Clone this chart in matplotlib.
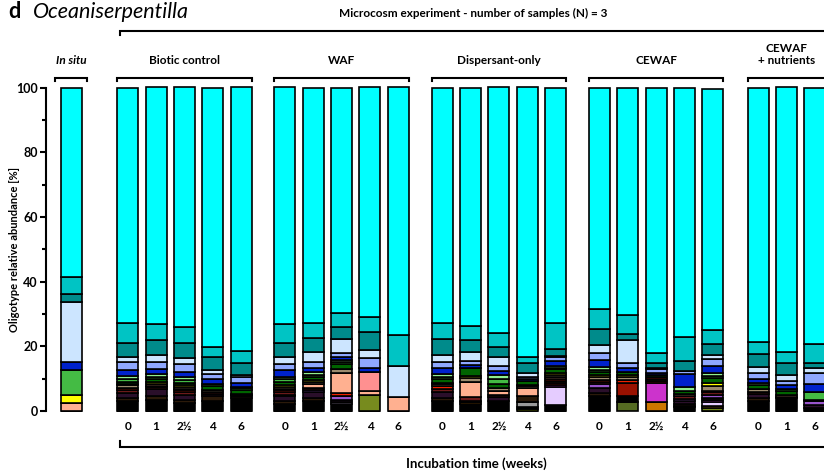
import numpy as np
import matplotlib.pyplot as plt

plt.rcParams['font.family'] = 'Lato'

# samples: in situ, then 5 treatments sampled over incubation weeks
weeks = ['0', '1', '2½', '4', '6']
groups = ['Biotic control', 'WAF', 'Dispersant-only', 'CEWAF', 'CEWAF\n+ nutrients']
group_weeks = [weeks, weeks, weeks, weeks, ['0', '1', '6']]

# oligotype relative abundance (%), one value per sample, stacked bottom -> top
# order: IS | BC 0 1 2½ 4 6 | WAF x5 | Disp x5 | CEWAF x5 | CEWAF+nutr 0 1 6
olivedk  = [0, 0, 0, 0, 0, 0,  0, 0, 0, 0, 0,  0, 0, 0, 0, 0,  0, 2.9, 0, 0, 0,  0, 0, 0]
ygreen   = [0, 0, 0, 0, 0, 0,  0, 0, 0, 0, 0,  0, 0, 0, 0.5, 0,  0, 0, 0, 0, 0,  0, 0, 0]
black    = [0, 3.0, 3.5, 2.5, 3.0, 4.0,  2.2, 3.0, 2.2, 0, 0,  3.0, 2.2, 3.0, 0.6, 1.9,  4.5, 1.7, 0, 1.2, 0,  3.0, 3.9, 1.0]
gray     = [0, 0, 0, 0, 0, 0,  0, 0, 0, 0, 0,  0, 0, 0, 1.8, 0,  0, 0, 0, 0, 0,  0, 0, 0]
olive    = [0, 0, 0, 0, 0, 0,  0, 0, 0, 5.0, 0,  0, 0, 0, 0, 0,  0, 0, 0, 0, 0.8,  0, 0, 0]
orange   = [0, 0, 0, 0, 0, 0,  0, 0, 0, 0, 0,  0, 0.5, 0, 0, 0,  0, 0, 2.9, 0.4, 0.9,  0, 0, 0]
lavender = [0, 0, 0, 0, 0, 0,  0, 0, 0.5, 0, 0,  0, 0, 0, 0, 5.4,  0, 0, 0, 0, 1.2,  0, 0, 0]
magenta  = [0, 0, 0, 0, 0, 0,  0, 0, 0, 0, 0,  0, 0, 0, 0, 0.6,  0, 0, 5.7, 0, 0.4,  0, 0, 0]
darkred  = [0, 0, 0, 0, 0, 0,  0, 0, 0, 0, 0,  0, 0, 0, 0, 0.9,  0, 4.2, 0.8, 0, 0,  0, 0, 0]
dkbrown  = [0, 1.0, 1.2, 1.0, 1.5, 0.5,  0.8, 1.0, 0, 0, 0,  1.0, 0, 0, 1.7, 0.5,  1.0, 0, 0.6, 0.7, 0.8,  1.0, 0, 0]
dkpurple = [0, 1.5, 2.0, 1.5, 0.7, 0,  1.5, 1.9, 0.8, 0, 0,  2.0, 0, 1.2, 0, 0,  1.5, 0, 0, 0.8, 0,  1.2, 0, 1.0]
purple   = [0, 0, 0, 0, 0, 0,  0.6, 0.5, 1.2, 0, 0,  0, 0.5, 0, 0, 0,  1.2, 0, 0, 0.7, 1.0,  0, 0, 1.0]
maroon   = [0, 1.1, 0.6, 0.9, 0.8, 0.5,  0.8, 0.8, 0, 0, 0,  0.8, 1.0, 0.8, 0, 0,  0.8, 0, 0, 0.8, 0.8,  0.8, 0.5, 0]
red      = [0, 0.5, 0.5, 0.5, 0, 0,  0.5, 0, 0.8, 0, 0,  0.8, 0, 0, 0, 0.6,  0.7, 0.8, 0.5, 0, 0.4,  0, 0, 0]
salmon   = [2.6, 0, 0.6, 0.4, 0, 0,  0.5, 1.2, 6.3, 1.3, 4.4,  0, 4.9, 1.2, 2.4, 0.5,  0, 0, 0, 0.6, 0,  0, 0.4, 0]
pink     = [0, 0, 0, 0, 0, 0,  0, 0, 0, 5.7, 0,  0, 0, 0, 0, 0,  0, 0, 0, 0, 0,  0, 0, 0]
tan      = [0, 0.8, 0, 0.7, 0.6, 0.4,  0.6, 0.6, 1.3, 0, 0,  0.8, 1.2, 0.8, 0.6, 0.8,  0.8, 0.9, 0, 0, 1.4,  0.8, 0, 0]
yellow   = [2.4, 0.5, 0.6, 0.5, 0, 0,  0.5, 0.7, 0, 0, 0,  0.4, 0.6, 0, 0.4, 0.6,  0.5, 0.5, 0, 0, 0.9,  0, 0, 0.4]
dkgreen  = [0, 0.6, 0.8, 0.7, 1.2, 1.0,  1.0, 0.8, 1.4, 0, 0,  1.0, 2.4, 1.3, 1.3, 1.1,  1.0, 1.2, 0.6, 0.9, 1.6,  1.2, 1.5, 0]
green    = [7.6, 1.0, 0.8, 0.9, 0.5, 0.6,  0.8, 0.7, 0.6, 0, 0,  0.8, 0, 1.5, 0, 0.5,  0.8, 0, 0, 0, 0.6,  0, 0.4, 2.6]
ltgreen  = [0, 0.8, 0.8, 0.8, 0, 0.5,  0.6, 0.8, 0.7, 0, 0,  0.8, 0, 1.2, 0, 0.5,  0.9, 0, 0, 1.2, 0.8,  0.6, 0, 0]
blue     = [2.7, 1.9, 1.7, 1.8, 1.5, 1.1,  2.3, 1.2, 0.8, 1.2, 0,  1.8, 0.8, 1.5, 0.6, 1.7,  2.1, 1.0, 0.5, 4.1, 2.3,  1.4, 1.2, 2.3]
peri     = [0, 2.3, 1.9, 2.3, 1.6, 1.8,  1.8, 1.8, 1.4, 3.1, 0,  2.0, 1.5, 1.4, 0.5, 1.0,  2.2, 1.5, 1.3, 1.1, 2.3,  1.6, 1.5, 3.3]
ltblue   = [18.3, 1.6, 2.3, 1.8, 1.3, 0.6,  2.1, 3.1, 4.2, 2.6, 9.5,  2.1, 2.5, 2.7, 1.2, 0.4,  2.4, 7.2, 0.3, 0, 1.0,  2.1, 1.6, 1.6]
teal     = [2.6, 4.5, 4.6, 4.6, 3.9, 3.9,  4.5, 4.4, 3.7, 5.6, 0,  4.9, 3.8, 3.1, 3.1, 2.1,  4.9, 1.9, 1.7, 3.1, 3.6,  3.9, 3.7, 1.7]
turq     = [5.1, 6.0, 5.1, 5.0, 3.3, 3.7,  5.8, 4.8, 4.3, 4.5, 9.6,  4.9, 4.4, 4.3, 1.9, 8.2,  6.1, 5.9, 2.9, 7.2, 4.2,  3.8, 3.4, 5.8]
cyan     = [58.7, 72.9, 73.0, 74.1, 80.1, 81.4,  73.1, 72.7, 69.8, 71.0, 76.5,  72.9, 73.7, 76.0, 83.4, 72.7,  68.6, 70.3, 82.2, 77.2, 74.4,  78.6, 81.9, 79.3]

layers = [
    (olivedk, '#556b22'), (ygreen, '#ccee00'), (black, '#000000'), (gray, '#999999'),
    (olive, '#778b1e'), (orange, '#cc7700'), (lavender, '#e5ccff'), (magenta, '#cc33cc'),
    (darkred, '#991100'), (dkbrown, '#2b1a0a'), (dkpurple, '#2a0f2a'), (purple, '#9955cc'),
    (maroon, '#6b1a1a'), (red, '#ee2200'), (salmon, '#ffb090'), (pink, '#ff9090'),
    (tan, '#9c8b6e'), (yellow, '#ffff00'), (dkgreen, '#006400'), (green, '#44bb44'),
    (ltgreen, '#90ee90'), (blue, '#0022cc'), (peri, '#8fa8ff'), (ltblue, '#cce5ff'),
    (teal, '#008b8b'), (turq, '#00c4c4'), (cyan, '#00ffff'),
]

# bar positions (one unit = bar spacing)
group_starts = [2, 7.55, 13.1, 18.65, 24.25]
xpos = [0.0]
for s, wk in zip(group_starts, group_weeks):
    xpos += [s + i for i in range(len(wk))]
xpos = np.array(xpos)
width = 0.74

fig = plt.figure(figsize=(8.24, 4.73), dpi=100)
ax = fig.add_axes([46 / 824, 1 - 411 / 473, 1 - 46 / 824, 323.5 / 473])

bottom = np.zeros(len(xpos))
for vals, col in layers:
    vals = np.array(vals)
    ax.bar(xpos, vals, width, bottom=bottom, color=col, edgecolor='black',
           linewidth=1.2, clip_on=False)
    bottom += vals

ax.set_xlim(-25 / 28.3, 752 / 28.3)
ax.set_ylim(0, 100)

for side in ['top', 'right', 'bottom']:
    ax.spines[side].set_visible(False)
ax.spines['left'].set_linewidth(1.5)
ax.set_yticks(range(0, 101, 20))
ax.set_yticks(range(10, 100, 20), minor=True)
ax.tick_params(axis='y', which='major', length=4, width=1.5, labelsize=9, pad=2)
ax.tick_params(axis='y', which='minor', length=3, width=1.5)
for lab in ax.get_yticklabels():
    lab.set_fontweight('bold')
ax.set_ylabel('Oligotype relative abundance [%]', fontsize=8, fontweight='bold')
ax.yaxis.set_label_coords(-0.034, 0.5)

ax.set_xticks(xpos[1:])
ax.set_xticklabels([w for wk in group_weeks for w in wk], fontsize=8.5, fontweight='bold')
ax.tick_params(axis='x', length=0, pad=7)

# group brackets and labels
lw = 1.5
def bracket(x0, x1, y, drop):
    ax.plot([x0, x0, x1, x1], [y - drop, y, y, y - drop], color='black',
            lw=lw, clip_on=False, solid_joinstyle='miter')

bracket(-0.57, 0.57, 102.9, 1.0)
ax.text(0, 108.2, 'In situ', ha='center', va='center', fontsize=8.5,
        fontweight='bold', style='italic')
for s, wk, name in zip(group_starts, group_weeks, groups):
    x0 = s - width / 2
    x1 = s + len(wk) - 1 + width / 2
    bracket(x0, x1, 102.9, 1.0)
    ax.text((x0 + x1) / 2, 106.6 if '\n' in name else 108.2, name, ha='center',
            va='bottom' if '\n' in name else 'center',
            fontsize=8.5, fontweight='bold', linespacing=1.1)

# experiment span (runs off the right edge)
bracket(1.73, 30, 117.5, 1.3)
ax.text(14.2, 122.8, 'Microcosm experiment - number of samples (N) = 3',
        ha='center', va='center', fontsize=8.5, fontweight='bold')
bracket(1.73, 30, -11.1, -1.8)
ax.text(14.3, -16.2, 'Incubation time (weeks)', ha='center', va='center',
        fontsize=9.5, fontweight='bold')

fig.text(8 / 824, 1 - 12 / 473, 'd', fontsize=15.5, fontweight='bold', va='center')
fig.text(33 / 824, 1 - 12 / 473, 'Oceaniserpentilla', fontsize=15.5, style='italic', va='center')

fig.savefig('out.png', dpi=100)
